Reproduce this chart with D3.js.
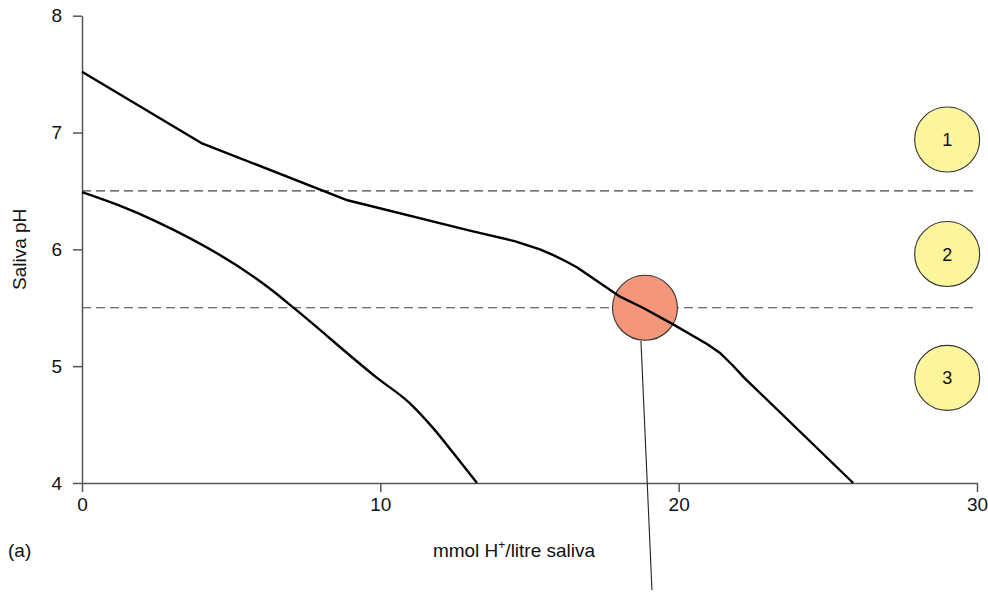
<!DOCTYPE html>
<html><head><meta charset="utf-8">
<script src="https://cdn.jsdelivr.net/npm/d3@7"></script>
<style>
body{margin:0;background:#fff;}
svg{display:block;font-family:"Liberation Sans",Arial,Helvetica,sans-serif;}
</style></head>
<body>
<svg id="chart" width="988" height="592"></svg>
<script>
// Data
const xTicks = [0, 10, 20, 30];
const yTicks = [4, 5, 6, 7, 8];
const upperX = [0, 4.0, 8.9, 13.0, 14.5, 15.35, 15.8, 16.2, 16.6, 18.0, 18.8, 19.8, 20.95, 21.4, 21.8, 22.2, 25.85];
const upperY = [7.52, 6.91, 6.42, 6.16, 6.07, 6.0, 5.95, 5.90, 5.845, 5.60, 5.50, 5.36, 5.19, 5.11, 5.01, 4.90, 4.0];
const lowerX = [0, 1.2, 2.48, 6.37, 7.14, 9.89, 11.0, 11.77, 12.5, 13.24];
const lowerY = [6.49, 6.38, 6.24, 5.65, 5.49, 4.90, 4.68, 4.47, 4.24, 4.0];
const thresholds = [6.5, 5.5];
const zoneLabels = ["1", "2", "3"];
const zoneX = [29, 29, 29];
const zoneY = [6.94, 5.96, 4.90];
const criticalX = 18.87, criticalY = 5.5;
const xLabel = "mmol H", xLabelSup = "+", xLabelRest = "/litre saliva";
const yLabel = "Saliva pH";
const panelLabel = "(a)";

const svg = d3.select("#chart");
const x = d3.scaleLinear().domain([0, 30]).range([82, 977]);
const y = d3.scaleLinear().domain([4, 8]).range([483, 15.7]);
const axisColor = "#555";
const fs = 19;

// dashed thresholds
svg.selectAll(".thr").data(thresholds).join("line")
  .attr("x1", x(0)).attr("x2", x(29.95))
  .attr("y1", d => y(d)).attr("y2", d => y(d))
  .attr("stroke", "#444").attr("stroke-width", 1.2).attr("stroke-dasharray", "9,5");

// axes
const xAxis = svg.append("g").attr("transform", `translate(0,${y(4)})`)
  .call(d3.axisBottom(x).tickValues(xTicks).tickFormat(d3.format("d")).tickSize(9).tickPadding(6).tickSizeOuter(0));
const yAxis = svg.append("g").attr("transform", `translate(${x(0)},0)`)
  .call(d3.axisLeft(y).tickValues(yTicks).tickFormat(d3.format("d")).tickSize(9).tickPadding(11).tickSizeOuter(0));
[xAxis, yAxis].forEach(g => {
  g.attr("font-size", fs).attr("font-family", "Liberation Sans, Arial, sans-serif");
  g.select(".domain").attr("stroke", axisColor).attr("stroke-width", 1.5);
  g.selectAll(".tick line").attr("stroke", axisColor).attr("stroke-width", 1.5);
  g.selectAll(".tick text").attr("fill", "#111").style("font-size", fs + "px");
});

// curves
const lineLin = d3.line().x(d => x(d[0])).y(d => y(d[1])).curve(d3.curveLinear);
const lineSmooth = d3.line().x(d => x(d[0])).y(d => y(d[1])).curve(d3.curveMonotoneX);
const upper = upperX.map((v, i) => [v, upperY[i]]);
const lower = lowerX.map((v, i) => [v, lowerY[i]]);

// leader line
svg.append("line")
  .attr("x1", x(criticalX) - 4).attr("y1", y(criticalY) + 33)
  .attr("x2", x(criticalX) + 7).attr("y2", 590)
  .attr("stroke", "#222").attr("stroke-width", 1.1);

// critical circle
svg.append("circle").attr("cx", x(criticalX)).attr("cy", y(criticalY)).attr("r", 32.5)
  .attr("fill", "#f4967a").attr("stroke", "#333").attr("stroke-width", 1.1);

svg.append("path").datum(upper)
  .attr("d", lineLin).attr("fill", "none").attr("stroke", "#000").attr("stroke-width", 2.4)
  .attr("stroke-linejoin", "round");
svg.append("path").datum(lower)
  .attr("d", lineSmooth).attr("fill", "none").attr("stroke", "#000").attr("stroke-width", 2.4)
  .attr("stroke-linejoin", "round");

// zone circles
const zones = svg.selectAll(".zone").data(zoneLabels).join("g")
  .attr("transform", (d, i) => `translate(${x(zoneX[i])},${y(zoneY[i])})`);
zones.append("circle").attr("r", 32.5).attr("fill", "#fdf59c")
  .attr("stroke", "#333").attr("stroke-width", 1.1);
zones.append("text").text(d => d).attr("text-anchor", "middle").attr("dy", "0.36em")
  .style("font-size", "18px").attr("fill", "#111");

// labels
svg.append("text").attr("transform", `translate(26,${y(6)}) rotate(-90)`)
  .attr("text-anchor", "middle").style("font-size", fs + "px").attr("fill", "#111").text(yLabel);
const xl = svg.append("text").attr("x", 514).attr("y", 557).attr("text-anchor", "middle")
  .style("font-size", fs + "px").attr("fill", "#111");
xl.append("tspan").text(xLabel);
xl.append("tspan").text(xLabelSup).style("font-size", "12px").attr("dy", -8);
xl.append("tspan").text(xLabelRest).attr("dy", 8);
svg.append("text").attr("x", 8).attr("y", 557).style("font-size", fs + "px").attr("fill", "#111").text(panelLabel);
</script>
</body></html>
